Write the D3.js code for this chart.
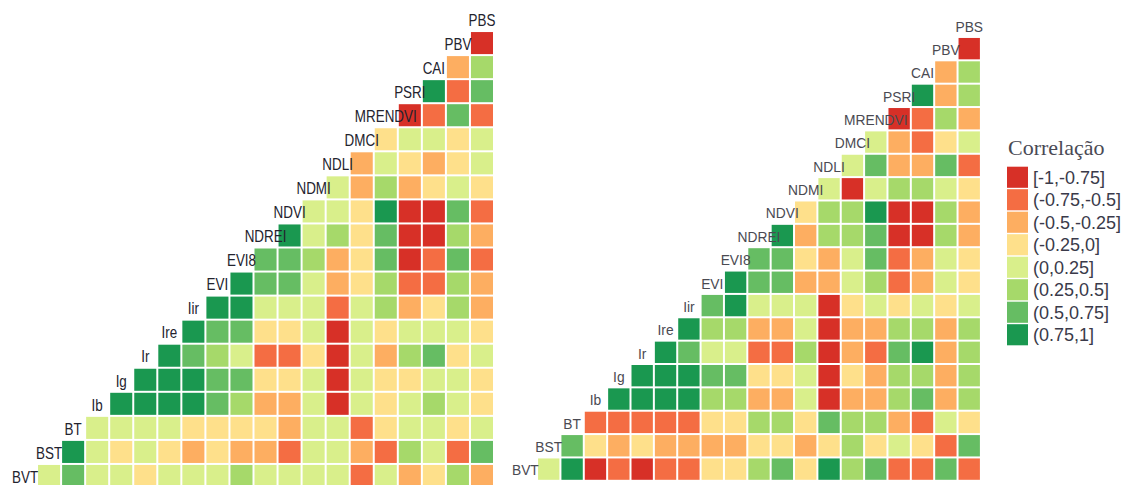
<!DOCTYPE html>
<html>
<head>
<meta charset="utf-8">
<script src="https://cdn.jsdelivr.net/npm/d3@7"></script>
<style>
  body { margin: 0; background: #fff; }
  svg { display: block; }
  .lab { font-family: "Liberation Sans", Arial, sans-serif; }
  .leg { font-family: "Liberation Sans", Arial, sans-serif; font-size: 18px; fill: #3a3a4a; }
  .legtitle { font-family: "Liberation Serif", "Times New Roman", serif; font-size: 22px; fill: #4a4a55; }
</style>
</head>
<body>
<svg width="1129" height="485"></svg>
<script>
var svg = d3.select("svg");

// variables (diagonal labels), bottom to top
var vars = ["BVT","BST","BT","Ib","Ig","Ir","Ire","Iir","EVI","EVI8","NDREI","NDVI","NDMI","NDLI","DMCI","MRENDVI","PSRI","CAI","PBV","PBS"];

// left panel: row i holds correlations of vars[i] with vars[i+1..19]
var leftCorr = [
  [0.1, 0.6, 0.1, 0.1, -0.1, 0.1, 0.1, 0.1, 0.4, 0.1, 0.1, 0.1, 0.1, -0.6, 0.1, -0.4, -0.1, 0.4, -0.4],
  [0.85, 0.1, -0.1, 0.1, -0.1, -0.4, -0.1, -0.4, -0.4, -0.6, 0.1, 0.1, -0.4, -0.6, 0.4, 0.1, -0.6, 0.6],
  [0.1, 0.1, 0.1, 0.1, -0.1, -0.1, -0.1, -0.1, -0.4, 0.1, 0.1, -0.6, -0.1, 0.1, 0.1, -0.1, 0.1],
  [0.85, 0.85, 0.85, 0.85, 0.6, 0.4, -0.4, -0.4, 0.1, -0.85, 0.1, -0.1, 0.1, 0.4, 0.1, -0.1],
  [0.85, 0.85, 0.85, 0.6, 0.6, -0.1, -0.1, 0.1, -0.85, 0.1, -0.1, -0.1, 0.1, 0.1, -0.1],
  [0.85, 0.6, 0.4, 0.1, -0.6, -0.6, -0.1, -0.85, 0.1, -0.4, 0.4, 0.6, -0.1, 0.1],
  [0.85, 0.6, 0.6, -0.1, -0.1, 0.1, -0.85, 0.1, -0.1, 0.1, 0.1, 0.1, -0.1],
  [0.85, 0.85, 0.1, 0.1, 0.1, -0.6, 0.1, 0.4, -0.4, -0.1, 0.4, -0.4],
  [0.85, 0.6, 0.6, 0.1, -0.4, -0.1, 0.4, -0.6, -0.6, 0.4, -0.4],
  [0.6, 0.6, 0.4, -0.4, -0.1, 0.6, -0.85, -0.6, 0.6, -0.6],
  [0.85, 0.1, 0.4, -0.1, 0.6, -0.85, -0.85, 0.4, -0.4],
  [0.1, 0.1, -0.1, 0.85, -0.85, -0.85, 0.6, -0.6],
  [0.1, -0.4, 0.4, -0.4, -0.1, 0.1, -0.1],
  [-0.4, 0.1, -0.1, -0.4, -0.1, 0.1],
  [-0.1, 0.1, 0.1, -0.1, 0.1],
  [-0.85, -0.6, 0.6, -0.6],
  [0.85, -0.6, 0.6],
  [-0.4, 0.4],
  [-0.85]
];

// right panel
var rightCorr = [
  [0.1, 0.85, -0.85, -0.6, -0.85, -0.6, -0.6, -0.1, -0.1, 0.4, 0.6, -0.1, 0.85, 0.4, 0.6, -0.6, -0.6, 0.6, -0.6],
  [0.6, -0.1, -0.4, -0.1, -0.4, -0.4, -0.4, -0.4, -0.1, -0.1, -0.4, -0.1, 0.4, -0.1, 0.1, -0.1, -0.6, 0.6],
  [-0.6, -0.6, -0.6, -0.6, -0.6, -0.1, -0.1, 0.4, 0.4, -0.1, 0.6, 0.4, 0.4, -0.4, -0.6, 0.1, -0.1],
  [0.85, 0.85, 0.85, 0.85, 0.4, 0.4, -0.4, -0.4, 0.1, -0.85, -0.4, -0.4, 0.4, 0.6, -0.4, 0.4],
  [0.85, 0.85, 0.85, 0.6, 0.6, -0.1, -0.1, 0.1, -0.85, -0.1, -0.4, 0.4, 0.4, -0.4, 0.4],
  [0.85, 0.6, 0.1, 0.1, -0.6, -0.6, 0.4, -0.85, -0.4, -0.6, 0.6, 0.85, -0.4, 0.4],
  [0.85, 0.4, 0.4, -0.4, -0.4, 0.1, -0.85, -0.4, -0.4, 0.4, 0.4, -0.4, 0.4],
  [0.6, 0.85, 0.1, 0.1, 0.1, -0.85, -0.1, 0.1, -0.1, 0.1, -0.1, 0.1],
  [0.85, 0.6, 0.6, -0.4, -0.4, 0.1, 0.4, -0.6, -0.4, 0.1, -0.1],
  [0.6, 0.6, -0.1, -0.4, 0.1, 0.6, -0.6, -0.4, 0.1, -0.1],
  [0.85, -0.4, 0.4, 0.4, 0.6, -0.85, -0.85, 0.4, -0.4],
  [-0.1, 0.4, 0.4, 0.85, -0.85, -0.85, 0.4, -0.4],
  [0.1, -0.85, 0.1, 0.4, 0.4, 0.1, -0.1],
  [0.1, 0.6, -0.4, -0.4, 0.6, -0.6],
  [0.1, -0.4, -0.6, -0.1, 0.1],
  [-0.85, -0.6, 0.4, -0.4],
  [0.85, -0.4, 0.4],
  [-0.4, 0.4],
  [-0.85]
];

var breaks = [-0.75, -0.5, -0.25, 0, 0.25, 0.5, 0.75];
var legendLabels = ["[-1,-0.75]", "(-0.75,-0.5]", "(-0.5,-0.25]", "(-0.25,0]", "(0,0.25]", "(0.25,0.5]", "(0.5,0.75]", "(0.75,1]"];

var color = d3.scaleThreshold()
    .domain(breaks)
    .range(d3.schemeRdYlGn[10].slice(1, 9));

function toCells(corr) {
  var out = [];
  corr.forEach(function(row, i) {
    row.forEach(function(v, k) {
      out.push({row: vars[i], col: vars[i + 1 + k], r: v});
    });
  });
  return out;
}

// labels in the source look a bit tall and narrow, hence the squeeze
function drawPanel(corr, xr, yr, fontSize, squeeze, fill) {
  var x = d3.scaleBand().domain(vars).range(xr);
  var y = d3.scaleBand().domain(vars).range(yr);
  var bw = x.bandwidth();
  var g = svg.append("g");

  g.selectAll("rect")
    .data(toCells(corr))
    .enter().append("rect")
      .attr("x", function(d) { return x(d.col) + 1; })
      .attr("y", function(d) { return y(d.row) + 1; })
      .attr("width", bw - 2)
      .attr("height", y.bandwidth() - 2)
      .attr("fill", function(d) { return color(d.r); });

  g.selectAll("text")
    .data(vars)
    .enter().append("text")
      .attr("class", "lab")
      .attr("transform", function(d) {
        return "translate(" + (x(d) + bw / 2) + "," + (y(d) + y.bandwidth() / 2) + ") scale(" + squeeze + ",1)";
      })
      .attr("text-anchor", "middle")
      .attr("dy", "0.42em")
      .style("font-size", fontSize + "px")
      .style("fill", fill)
      .text(function(d) { return d; });
}

drawPanel(leftCorr, [13, 494], [488, 7], 16, 0.84, "#23232e");
drawPanel(rightCorr, [513.7, 980.9], [480.8, 13.6], 15, 0.92, "#4a4a52");

// legend
var leg = svg.append("g").attr("transform", "translate(1007,0)");
leg.append("text")
    .attr("class", "legtitle")
    .attr("x", 1)
    .attr("y", 155)
    .text("Correlação");

var ly = d3.scaleBand().domain(legendLabels).range([166, 346]);
leg.selectAll("rect")
  .data(legendLabels)
  .enter().append("rect")
    .attr("x", 0)
    .attr("y", function(d) { return ly(d) + 0.7; })
    .attr("width", 21)
    .attr("height", ly.bandwidth() - 1.4)
    .attr("fill", function(d, i) { return color.range()[i]; });

leg.selectAll("text.leg")
  .data(legendLabels)
  .enter().append("text")
    .attr("class", "leg")
    .attr("x", 26)
    .attr("y", function(d) { return ly(d) + ly.bandwidth() / 2; })
    .attr("dy", "0.36em")
    .text(function(d) { return d; });
</script>
</body>
</html>
